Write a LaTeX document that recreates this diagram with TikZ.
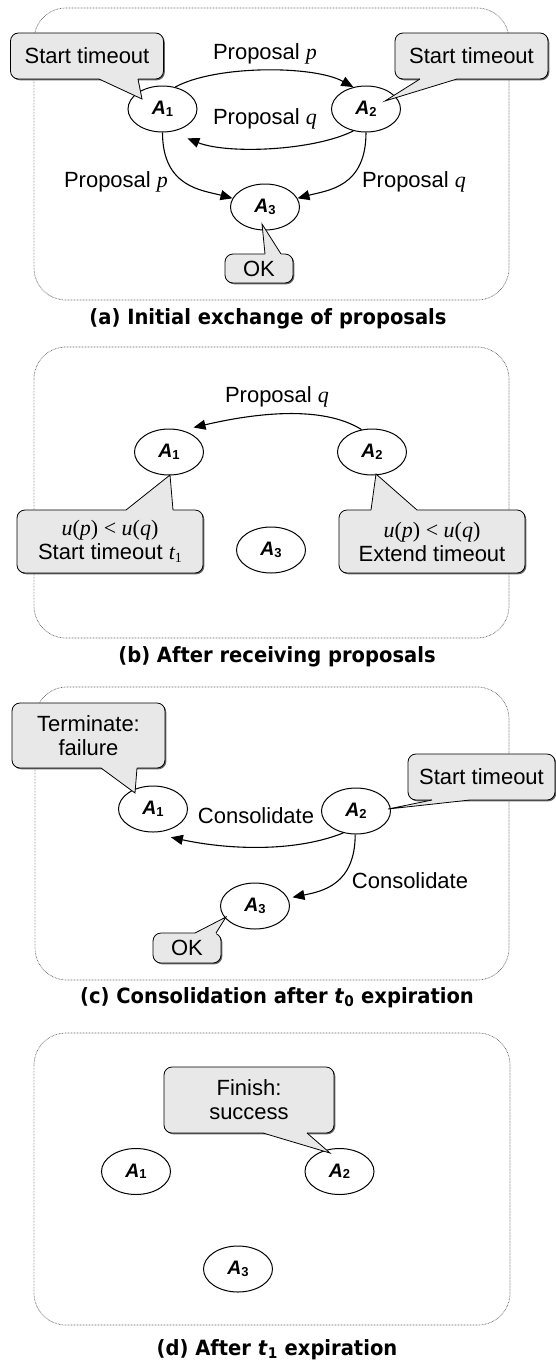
\documentclass[tikz,border=0pt]{standalone}
\usepackage{fontspec}
\setmainfont{Liberation Sans}
\newfontfamily\tms{Liberation Serif}
\newfontfamily\capf[FakeStretch=0.93]{DejaVu Sans}
\usetikzlibrary{arrows.meta,shadows,calc,shapes.geometric}
\newcommand{\ag}[1]{{\fontsize{19.5}{19}\selectfont\bfseries\itshape A}{\fontsize{13}{12}\selectfont\bfseries\raisebox{-1.5pt}{#1}}}
\newcommand{\mi}[1]{{\tms\itshape #1}}
\newcommand{\callptr}[4]{%
  \fill[black!9] ($#1+#4$) -- #1 -- #3 -- #2 -- ($#2+#4$) -- cycle;
  \draw[line width=0.8pt, line join=miter] #1 -- #3 -- #2;}
\begin{document}
\begin{tikzpicture}[x=1pt,y=-1pt,
  agent/.style={ellipse, draw, line width=1pt, fill=white, minimum width=69pt, minimum height=46pt, inner sep=0pt},
  callbox/.style={rectangle, rounded corners=8pt, draw, line width=0.8pt, fill=black!9, align=center, inner sep=0pt,
    font=\fontsize{22}{24}\selectfont,
    drop shadow={shadow xshift=1.3pt, shadow yshift=-1.3pt, fill=black!60, opacity=1}},
  lbl/.style={font=\fontsize{22}{24}\selectfont, anchor=base, inner sep=0pt},
  captext/.style={font=\capf\bfseries\fontsize{21}{24}\selectfont, anchor=base, inner sep=0pt},
  frame/.style={draw=black!60, line width=0.7pt, dash pattern=on 0.7pt off 0.8pt, rounded corners=32pt},
  arr/.style={line width=1.1pt, -{Triangle[length=12pt,width=10pt]}}]
\useasboundingbox (0,0) rectangle (556,1360);

% ---------------- panel (a)
\draw[frame] (34,8) rectangle (509,300);
\node[agent] (a1) at (162.5,109) {\ag{1}};
\node[agent] (a2) at (366,109) {\ag{2}};
\node[agent] (a3) at (265,207) {\ag{3}};
\draw[arr] (a1.60) .. controls +(40,-22) and +(-40,-22) .. (a2.120);
\draw[arr] (a2.-120) .. controls +(-40,20) and +(40,16) .. ($(a1.-40)+(3,11)$);
\draw[arr] (a1.south) .. controls +(0,55) and +(-30,-8) .. (a3.165);
\draw[arr] (a2.south) .. controls +(0,55) and +(30,-8) .. (a3.15);
\node[lbl] (la1) at (265,59) {Proposal \mi{p}};
\node[lbl] (la2) at (265,124) {Proposal \mi{q}};
\node[lbl] (la3) at (116,187) {Proposal \mi{p}};
\node[lbl] (la4) at (414,187) {Proposal \mi{q}};
\node[callbox, minimum width=153pt, minimum height=46pt] (ca1) at (87,56) {Start timeout};
\coordinate (ta1) at (142,99);
\callptr{(99,79)}{(138,79)}{(ta1)}{(0,-3)}
\node[callbox, minimum width=153pt, minimum height=46pt] (ca2) at (471.5,56) {Start timeout};
\coordinate (ta2) at (385,101);
\callptr{(420,79)}{(457,79)}{(ta2)}{(0,-3)}
\node[callbox, minimum width=68pt, minimum height=29pt] (ca3) at (259,268.5) {OK};
\coordinate (ta3) at (262,224);
\callptr{(265,254)}{(281,254)}{(ta3)}{(0,3)}
\node[captext] (capa) at (268,324) {(a) Initial exchange of proposals};

% ---------------- panel (b)
\draw[frame] (34,347) rectangle (509,638);
\node[agent] (b1) at (169,452) {\ag{1}};
\node[agent] (b2) at (372,452) {\ag{2}};
\node[agent] (b3) at (271,550) {\ag{3}};
\draw[arr] (b2.115) .. controls +(-40,-25) and +(60,-14) .. ($(b1.45)+(5,-5)$);
\node[lbl] (lb1) at (277,402) {Proposal \mi{q}};
\node[callbox, minimum width=186pt, minimum height=63pt] (cb1) at (110,541.5)
  {{\tms\mi{u}(\mi{p}) < \mi{u}(\mi{q})}\\Start timeout \mi{t}{\tms\fontsize{14}{14}\selectfont\raisebox{-3pt}{1}}};
\coordinate (tb1) at (170,475);
\callptr{(126,510)}{(173,510)}{(tb1)}{(0,3)}
\node[callbox, minimum width=186pt, minimum height=63pt] (cb2) at (432,541.5)
  {{\tms\mi{u}(\mi{p}) < \mi{u}(\mi{q})}\\Extend timeout};
\coordinate (tb2) at (376,474);
\callptr{(371,510)}{(417,510)}{(tb2)}{(0,3)}
\node[captext] (capb) at (277,662) {(b) After receiving proposals};

% ---------------- panel (c)
\draw[frame] (35,687) rectangle (509,980);
\node[agent] (c1) at (153,809) {\ag{1}};
\node[agent] (c2) at (356,811) {\ag{2}};
\node[agent] (c3) at (255,906) {\ag{3}};
\draw[arr] (c2.-120) .. controls +(-50,20) and +(55,12) .. ($(c1.-55)+(3,7)$);
\draw[arr] (c2.-92) .. controls +(0,50) and +(30,-6) .. ($(c3.15)+(5,0)$);
\node[lbl] (lc1) at (256,823) {Consolidate};
\node[lbl] (lc2) at (410,888) {Consolidate};
\node[callbox, minimum width=153pt, minimum height=65pt] (cc1) at (88.5,735.5) {Terminate:\\failure};
\coordinate (tc1) at (135,793);
\callptr{(101,768)}{(137,768)}{(tc1)}{(0,-3)}
\node[callbox, minimum width=147pt, minimum height=46pt] (cc2) at (481.5,777) {Start timeout};
\coordinate (tc2) at (388,809);
\callptr{(432,800)}{(470,800)}{(tc2)}{(0,-3)}
\node[callbox, minimum width=68pt, minimum height=30pt] (cc3) at (187,948) {OK};
\coordinate (tc3) at (226,917);
\callptr{(195,933)}{(216,933)}{(tc3)}{(0,3)}
\node[captext] (capc) at (277,1003) {(c) Consolidation after \textit{t}\textsubscript{0} expiration};

% ---------------- panel (d)
\draw[frame] (34,1033) rectangle (510,1325);
\node[agent] (d1) at (136,1171.5) {\ag{1}};
\node[agent] (d2) at (339.5,1171.5) {\ag{2}};
\node[agent] (d3) at (238,1269) {\ag{3}};
\node[callbox, minimum width=170pt, minimum height=66pt] (cd1) at (249,1100) {Finish:\\success};
\coordinate (td1) at (330,1153);
\callptr{(263,1133)}{(307,1133)}{(td1)}{(0,-3)}
\node[captext] (capd) at (277,1355) {(d) After \textit{t}\textsubscript{1} expiration};
\end{tikzpicture}
\end{document}
